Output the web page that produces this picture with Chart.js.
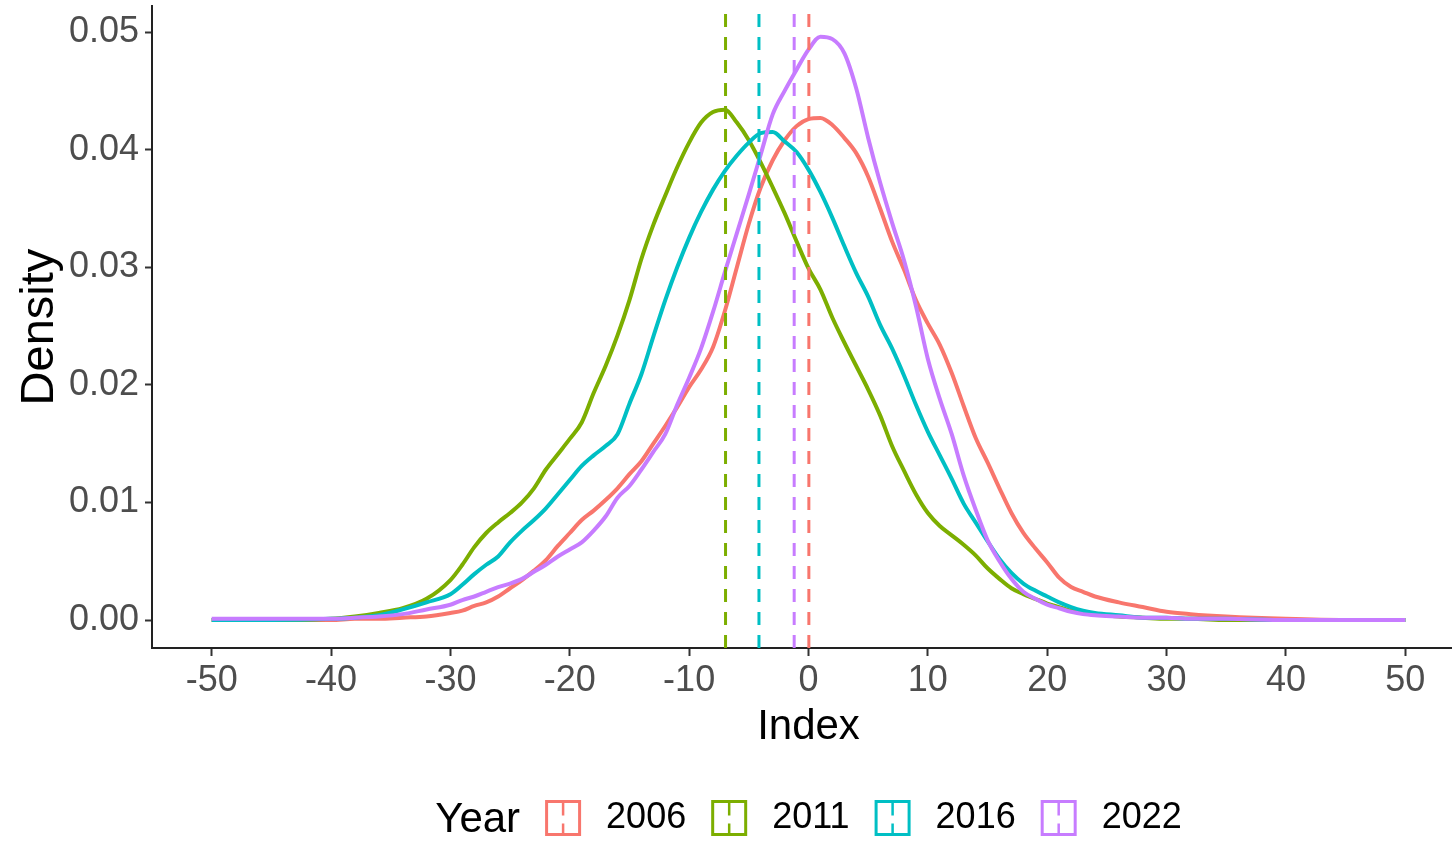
<!DOCTYPE html>
<html>
<head>
<meta charset="utf-8">
<script src="https://cdn.jsdelivr.net/npm/chart.js@4.4.0/dist/chart.umd.min.js"></script>
<style>
  html, body { margin: 0; padding: 0; background: #fff; overflow: hidden; }
  /* the original is cropped: its panel runs a little past the right edge */
  #wrap { width: 1465px; height: 841px; }
</style>
</head>
<body>
<div id="wrap"><canvas id="chart" width="1465" height="841"></canvas></div>
<script>
// Index grid the densities were read at
var gridX = [-50, -45, -40, -38, -36, -34, -32, -30,
  -29, -28, -27, -26, -25, -24, -23, -22, -21, -20,
  -19, -18, -17, -16, -15, -14, -13, -12, -11, -10,
  -9, -8, -7, -6, -5, -4, -3, -2, -1, 0,
  1, 2, 3, 4, 5, 6, 7, 8, 9, 10,
  11, 12, 13, 14, 15, 16, 17, 18, 19, 20,
  21, 22, 23, 24, 26, 28, 30, 32, 35, 40, 45, 50];

var years = ['2006', '2011', '2016', '2022'];
var colors = ['#F8766D', '#7CAE00', '#00BFC4', '#C77CFF'];

var dens2006 = [0, 0, 0, 0.0001, 0.0001, 0.0002, 0.0003, 0.0006,
  0.0008, 0.0012, 0.0015, 0.0020, 0.0027, 0.0034, 0.0042, 0.0051, 0.0063, 0.0074,
  0.0085, 0.0093, 0.0102, 0.0112, 0.0124, 0.0135, 0.0150, 0.0165, 0.0181, 0.0198,
  0.0213, 0.0232, 0.0263, 0.0300, 0.0337, 0.0368, 0.0391, 0.0408, 0.0420, 0.0426,
  0.0427, 0.0421, 0.0410, 0.0397, 0.0377, 0.0350, 0.0322, 0.0298, 0.0272, 0.0252,
  0.0234, 0.0210, 0.0182, 0.0155, 0.0134, 0.0112, 0.0091, 0.0074, 0.0061, 0.0049,
  0.0036, 0.0028, 0.0024, 0.0020, 0.0015, 0.0011, 0.0007, 0.0005, 0.0003, 0.0001, 0, 0];

var dens2011 = [0, 0, 0.0001, 0.0003, 0.0006, 0.0010, 0.0018, 0.0034,
  0.0047, 0.0062, 0.0074, 0.0083, 0.0091, 0.0100, 0.0112, 0.0128, 0.0141, 0.0154,
  0.0168, 0.0193, 0.0216, 0.0242, 0.0272, 0.0307, 0.0336, 0.0361, 0.0385, 0.0406,
  0.0423, 0.0432, 0.0434, 0.0423, 0.0408, 0.0389, 0.0368, 0.0346, 0.0322, 0.0299,
  0.0281, 0.0257, 0.0236, 0.0216, 0.0196, 0.0174, 0.0148, 0.0127, 0.0107, 0.0091,
  0.0080, 0.0072, 0.0064, 0.0055, 0.0044, 0.0035, 0.0027, 0.0022, 0.0018, 0.0014,
  0.0011, 0.0008, 0.0006, 0.0005, 0.0003, 0.0002, 0.0001, 0.0001, 0, 0, 0, 0];

var dens2016 = [0, 0, 0.0001, 0.0002, 0.0004, 0.0009, 0.0015, 0.0022,
  0.0030, 0.0039, 0.0047, 0.0054, 0.0066, 0.0076, 0.0085, 0.0095, 0.0107, 0.0119,
  0.0131, 0.0140, 0.0148, 0.0158, 0.0184, 0.0209, 0.0241, 0.0272, 0.0300, 0.0325,
  0.0347, 0.0366, 0.0382, 0.0395, 0.0406, 0.0414, 0.0415, 0.0407, 0.0398, 0.0383,
  0.0364, 0.0342, 0.0318, 0.0295, 0.0275, 0.0251, 0.0231, 0.0208, 0.0183, 0.0160,
  0.0140, 0.0120, 0.0099, 0.0083, 0.0067, 0.0052, 0.0040, 0.0031, 0.0025, 0.0020,
  0.0015, 0.0011, 0.0008, 0.0006, 0.0004, 0.0002, 0.0002, 0.0001, 0.0001, 0, 0, 0];

var dens2022 = [0.0001, 0.0001, 0.0001, 0.0002, 0.0003, 0.0005, 0.0009, 0.0013,
  0.0017, 0.0020, 0.0024, 0.0028, 0.0031, 0.0035, 0.0041, 0.0047, 0.0054, 0.0060,
  0.0066, 0.0076, 0.0088, 0.0104, 0.0114, 0.0128, 0.0143, 0.0158, 0.0183, 0.0206,
  0.0231, 0.0262, 0.0296, 0.0329, 0.0362, 0.0396, 0.0430, 0.0450, 0.0468, 0.0485,
  0.0496, 0.0494, 0.0482, 0.0452, 0.0410, 0.0372, 0.0338, 0.0306, 0.0267, 0.0222,
  0.0188, 0.0158, 0.0123, 0.0094, 0.0068, 0.0050, 0.0035, 0.0024, 0.0018, 0.0013,
  0.0010, 0.0007, 0.0005, 0.0004, 0.0003, 0.0002, 0.0002, 0.0001, 0.0001, 0, 0, 0];

// mean index per year (dashed lines)
var means = [0.03, -6.95, -4.15, -1.2];

var xTicks = [-50, -40, -30, -20, -10, 0, 10, 20, 30, 40, 50];
var yTicks = [0, 0.01, 0.02, 0.03, 0.04, 0.05];

var FONT = '"Liberation Sans", Arial, sans-serif';
var Y_MIN = -0.00238, Y_MAX = 0.0522;

var series = [dens2006, dens2011, dens2016, dens2022];
var datasets = [];

series.forEach(function(vals, i) {
  datasets.push({
    label: years[i],
    data: gridX.map(function(x, j) { return { x: x, y: vals[j] }; }),
    borderColor: colors[i],
    borderWidth: 4,
    pointRadius: 0,
    fill: false,
    cubicInterpolationMode: 'monotone',
    order: 20 - i
  });
});

// vertical dashed mean lines, on top of the curves
means.forEach(function(m, i) {
  datasets.push({
    label: years[i] + ' mean',
    data: [{ x: m, y: Y_MIN }, { x: m, y: Y_MAX }],
    borderColor: colors[i],
    borderWidth: 3,
    borderDash: [13, 10],
    pointRadius: 0,
    fill: false,
    order: 5 - i
  });
});

// ggplot-style legend: "Year" then boxed keys with a dashed centre line
var yearLegend = {
  id: 'yearLegend',
  afterDraw: function(chart) {
    var ctx = chart.ctx;
    var gap = 25, key = 36, cy = 818;
    var area = chart.chartArea;
    ctx.save();
    ctx.font = '42px ' + FONT;
    var wTitle = ctx.measureText('Year').width;
    ctx.font = '36px ' + FONT;
    var wLabels = years.map(function(y) { return ctx.measureText(y).width; });
    var total = wTitle;
    wLabels.forEach(function(w) { total += gap + key + gap + w; });
    var x = (area.left + area.right) / 2 - total / 2;

    ctx.fillStyle = '#000';
    ctx.textBaseline = 'middle';
    ctx.textAlign = 'left';
    ctx.font = '42px ' + FONT;
    ctx.fillText('Year', x, cy + 2);
    x += wTitle + gap;

    years.forEach(function(y, i) {
      var top = cy - key / 2;
      ctx.setLineDash([]);
      ctx.lineWidth = 3;
      ctx.strokeStyle = colors[i];
      ctx.fillStyle = '#fff';
      ctx.fillRect(x + 1.5, top + 1.5, key - 3, key - 3);
      ctx.strokeRect(x + 1.5, top + 1.5, key - 3, key - 3);
      ctx.lineWidth = 2.5;
      ctx.setLineDash([14, 8]);
      ctx.beginPath();
      ctx.moveTo(x + key / 2, top + 1.5);
      ctx.lineTo(x + key / 2, top + key - 1.5);
      ctx.stroke();
      ctx.setLineDash([]);
      x += key + gap;
      ctx.fillStyle = '#000';
      ctx.font = '36px ' + FONT;
      ctx.fillText(y, x, cy);
      x += wLabels[i] + gap;
    });
    ctx.restore();
  }
};

new Chart(document.getElementById('chart'), {
  type: 'line',
  data: { datasets: datasets },
  plugins: [yearLegend],
  options: {
    responsive: false,
    animation: false,
    layout: { padding: { left: 0, right: 0, top: 0, bottom: 80 } },
    plugins: {
      legend: { display: false },
      tooltip: { enabled: false }
    },
    scales: {
      x: {
        type: 'linear',
        min: -55,
        max: 55,
        afterBuildTicks: function(s) { s.ticks = xTicks.map(function(v) { return { value: v }; }); },
        afterFit: function(s) { s.height = 113; },
        ticks: {
          color: '#4D4D4D',
          font: { size: 36, family: FONT },
          padding: 3,
          maxRotation: 0,
          autoSkip: false,
          callback: function(v) { return String(v); }
        },
        grid: { drawOnChartArea: false, tickLength: 8, tickColor: '#333', tickWidth: 2 },
        border: { display: true, color: '#222', width: 2 },
        title: {
          display: true,
          text: 'Index',
          color: '#000',
          font: { size: 42, family: FONT },
          padding: { top: 0, bottom: 8 }
        }
      },
      y: {
        type: 'linear',
        min: Y_MIN,
        max: Y_MAX,
        afterBuildTicks: function(s) { s.ticks = yTicks.map(function(v) { return { value: v }; }); },
        afterFit: function(s) { s.width = 152; },
        ticks: {
          color: '#4D4D4D',
          font: { size: 36, family: FONT, lineHeight: 0.01 },
          padding: 6,
          callback: function(v) { return v.toFixed(2); }
        },
        grid: { drawOnChartArea: false, tickLength: 7, tickColor: '#333', tickWidth: 2 },
        border: { display: true, color: '#222', width: 2 },
        title: {
          display: true,
          text: 'Density',
          color: '#000',
          font: { size: 47, family: FONT },
          padding: { top: 12, bottom: 0 }
        }
      }
    }
  }
});
</script>
</body>
</html>
